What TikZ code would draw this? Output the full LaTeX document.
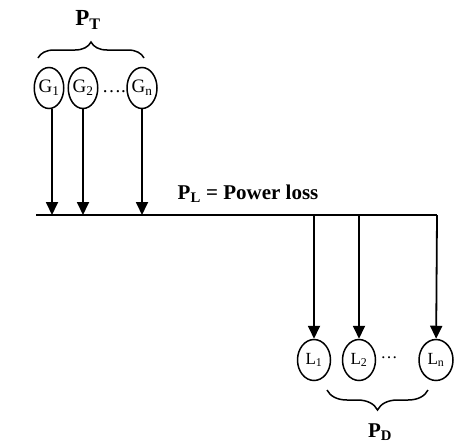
\documentclass[tikz,border=0pt]{standalone}
\usepackage{fontspec}
\setmainfont{Liberation Serif}
\usetikzlibrary{arrows.meta, positioning, shapes.geometric, decorations.pathreplacing}

\begin{document}
\begin{tikzpicture}[
		x=1pt, y=-1pt,
		unit/.style={
			ellipse,
			draw,
			line width=1.5pt,
			inner sep=0pt,
			minimum height=41pt
		},
		gen/.style={
			unit,
			minimum width=27pt,
			font=\fontsize{19}{21}\selectfont
		},
		load/.style={
			unit,
			minimum width=33pt,
			font=\fontsize{17}{19}\selectfont
		},
		arrow/.style={
			-{Triangle[length=13pt, width=12pt]},
			line width=1.8pt
		},
		brace/.style={
			decorate,
			decoration={brace, amplitude=16pt},
			line width=1.5pt
		},
		title/.style={
			font=\fontsize{21}{23}\selectfont\bfseries
		}
		]
		\useasboundingbox (0,0) rectangle (454,447);
		
		% bus
		\coordinate (busL) at (36,215);
		\coordinate (busR) at (437,215);
		\draw[line width=1.8pt] (busL) -- (busR);
		
		% generators
		\node[gen] (g1) at (49,88) {G\textsubscript{1}};
		\node[gen] (g2) at (83,88) {G\textsubscript{2}};
		\node[gen, minimum width=30pt] (gn) at (142,88) {G\textsubscript{n}};
		\node[font=\fontsize{19}{21}\selectfont] (gdots) at (114,92) {….};
		
		% loads
		\node[load] (l1) at (314,360) {L\textsubscript{1}};
		\node[load] (l2) at (359,360) {L\textsubscript{2}};
		\node[load, minimum width=34pt] (ln) at (436,360) {L\textsubscript{n}};
		\node[font=\fontsize{17}{19}\selectfont] (ldots) at (389,358) {…};
		
		% labels
		\coordinate (braceTL) at (38,58);
		\coordinate (braceTR) at (144,58);
		\coordinate (braceBL) at (327,390);
		\coordinate (braceBR) at (428,390);
		\draw[brace] (braceTL) -- (braceTR);
		\draw[brace, decoration={amplitude=20pt}] (braceBR) -- (braceBL);
		\node[title, font=\fontsize{23}{25}\selectfont\bfseries] (pt) at (88,20) {P\textsubscript{T}};
		\node[title] (pl) at (248,194) {P\textsubscript{L} = Power loss};
		\node[title] (pd) at (380,432) {P\textsubscript{D}};
		
		%--
		\draw[arrow] (g1.south -| 52,0) -- (52,215);
		\draw[arrow] (g2) -- (g2 |- busL);
		\draw[arrow] (gn) -- (gn |- busL);
		%--
		\draw[arrow] (l1 |- busL) -- (l1);
		\draw[arrow] (l2 |- busL) -- (l2);
		\draw[arrow] (busR) -- (ln);
		
	\end{tikzpicture}
\end{document}
